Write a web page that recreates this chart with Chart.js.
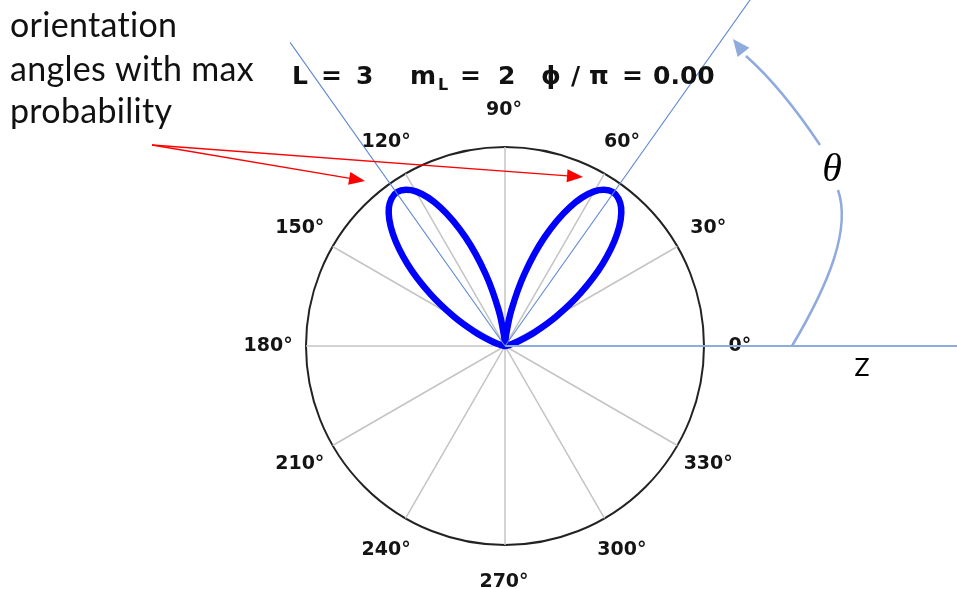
<!DOCTYPE html>
<html><head><meta charset="utf-8">
<script src="https://cdn.jsdelivr.net/npm/chart.js@4.4.0/dist/chart.umd.min.js"></script>
<style>html,body{margin:0;padding:0;background:#fff;overflow:hidden}</style>
</head><body>
<canvas id="c" width="957" height="589"></canvas>
<script>
// polar angle theta (degrees, counter-clockwise from +Z axis)
const thetaDeg = [0,5,10,15,20,25,30,35,40,45,50,55,60,65,70,75,80,85,
  90,95,100,105,110,115,120,125,130,135,140,145,150,155,160,165,170,175,
  180,185,190,195,200,205,210,215,220,225,230,235,240,245,250,255,260,265,
  270,275,280,285,290,295,300,305,310,315,320,325,330,335,340,345,350,355];
// radial value (fraction of outer circle)
const probability = [0.000,0.000,0.006,0.027,0.077,0.167,0.299,0.463,0.639,0.797,0.908,0.945,0.897,0.769,0.582,0.372,0.181,0.048,
  0.000,0.048,0.181,0.372,0.582,0.769,0.897,0.945,0.908,0.797,0.639,0.463,0.299,0.167,0.077,0.027,0.006,0.000,
  0.000,0,0,0,0,0,0,0,0,0,0,0,0,0,0,0,0,0,
  0,0,0,0,0,0,0,0,0,0,0,0,0,0,0,0,0,0];
// angular tick labels every 30 degrees
const angleTickLabels = ['0°','30°','60°','90°','120°','150°','180°','210°','240°','270°','300°','330°'];
// directions of maximum probability (degrees)
const maxAngles = [54.7, 125.3];

// Chart.js radar goes clockwise from startAngle; build the table in that order
const radarLabels = [];
const radarData = [];
for (let i = 0; i < thetaDeg.length; i++) {
  const th = (360 - thetaDeg[i]) % 360;
  const k = thetaDeg.indexOf(th);
  radarLabels.push(th);
  radarData.push(probability[k]);
}

function txt(ctx, s, x, y, font, color, align, base) {
  ctx.font = font; ctx.fillStyle = color || '#000';
  ctx.textAlign = align || 'left'; ctx.textBaseline = base || 'alphabetic';
  ctx.fillText(s, x, y);
}
function arrowHead(ctx, fx, fy, tx, ty, len, half, color) {
  const a = Math.atan2(ty - fy, tx - fx);
  ctx.beginPath();
  ctx.moveTo(tx, ty);
  ctx.lineTo(tx - len * Math.cos(a) + half * Math.sin(a), ty - len * Math.sin(a) - half * Math.cos(a));
  ctx.lineTo(tx - len * Math.cos(a) - half * Math.sin(a), ty - len * Math.sin(a) + half * Math.cos(a));
  ctx.closePath();
  ctx.fillStyle = color; ctx.fill();
}

const annot = {
  id: 'annot',
  afterDraw(chart) {
    const ctx = chart.ctx;
    const s = chart.scales.r;
    const cx = s.xCenter, cy = s.yCenter, R = s.drawingArea;
    ctx.save();
    // angular tick labels, centred outside the circle, placed with the scale
    for (let i = 0; i < radarLabels.length; i++) {
      const th = radarLabels[i];
      if (th % 30 !== 0) continue;
      const p = s.getPointPosition(i, R * 1.185);
      txt(ctx, angleTickLabels[th / 30], p.x - 1, p.y, 'bold 19px "DejaVu Sans"', '#141414', 'center', 'middle');
    }
    // Z axis
    ctx.strokeStyle = '#8FAADC'; ctx.lineWidth = 2;
    ctx.beginPath(); ctx.moveTo(cx, cy); ctx.lineTo(chart.width, cy); ctx.stroke();
    // max-probability directions
    ctx.strokeStyle = '#5E88D2'; ctx.lineWidth = 1.1;
    const lens = [440, 372];
    maxAngles.forEach((a, j) => {
      const r = a * Math.PI / 180;
      ctx.beginPath(); ctx.moveTo(cx, cy);
      ctx.lineTo(cx + lens[j] * Math.cos(r), cy - lens[j] * Math.sin(r)); ctx.stroke();
    });
    // theta arrow
    ctx.strokeStyle = '#8FAADC'; ctx.lineWidth = 2.5;
    ctx.beginPath(); ctx.moveTo(792, cy);
    ctx.bezierCurveTo(830, 282, 851, 228, 838, 190); ctx.stroke();
    ctx.beginPath(); ctx.moveTo(820, 145);
    ctx.quadraticCurveTo(782, 88, 746, 56); ctx.stroke();
    arrowHead(ctx, 752, 63, 733, 39, 17, 7.5, '#8FAADC');
    txt(ctx, 'θ', 832, 181, 'italic 40px "Liberation Serif"', '#000', 'center');
    txt(ctx, 'Z', 862, 376, '25px Lato', '#000', 'center');
    // red arrows
    ctx.strokeStyle = '#FF0000'; ctx.lineWidth = 1.3;
    [[365, 181], [583, 177]].forEach(([tx, ty]) => {
      ctx.beginPath(); ctx.moveTo(152, 145); ctx.lineTo(tx - 12, ty - 12 * (ty - 145) / (tx - 152)); ctx.stroke();
      arrowHead(ctx, 152, 145, tx, ty, 16, 6.5, '#FF0000');
    });
    // note text
    const nf = '34px Lato';
    if ('letterSpacing' in ctx) ctx.letterSpacing = '0.3px';
    txt(ctx, 'orientation', 10, 37, nf, '#111');
    txt(ctx, 'angles with max', 10, 81, nf, '#111');
    txt(ctx, 'probability', 10, 123, nf, '#111');
    if ('letterSpacing' in ctx) ctx.letterSpacing = '0px';
    // title
    const tf = 'bold 25px "DejaVu Sans"';
    const tc = '#111';
    txt(ctx, 'L', 292, 84, tf, tc);
    txt(ctx, '=', 321, 84, tf, tc);
    txt(ctx, '3', 356, 84, tf, tc);
    txt(ctx, 'm', 410, 84, tf, tc);
    txt(ctx, 'L', 438, 90, 'bold 16px "DejaVu Sans"', tc);
    txt(ctx, '=', 460, 84, tf, tc);
    txt(ctx, '2', 498, 84, tf, tc);
    txt(ctx, 'ϕ', 541, 84, tf, tc);
    txt(ctx, '/', 571, 84, tf, tc);
    txt(ctx, 'π', 589, 84, tf, tc);
    txt(ctx, '=', 622, 84, tf, tc);
    txt(ctx, '0.00', 653, 84, tf, tc);
    ctx.restore();
  }
};

new Chart(document.getElementById('c'), {
  type: 'radar',
  data: {
    labels: radarLabels,
    datasets: [{
      data: radarData,
      borderColor: '#0000FF',
      borderWidth: 6.5,
      pointRadius: 0,
      pointHoverRadius: 0,
      fill: false,
      tension: 0.35,
      borderJoinStyle: 'round',
      borderCapStyle: 'round'
    }]
  },
  options: {
    responsive: false,
    animation: false,
    events: [],
    layout: { padding: { left: 306, right: 253, top: 147, bottom: 44 } },
    plugins: { legend: { display: false }, tooltip: { enabled: false }, title: { display: false } },
    scales: {
      r: {
        min: 0, max: 1,
        startAngle: 90,
        ticks: { display: false, stepSize: 1 },
        grid: { circular: true, color: '#222222', lineWidth: 2 },
        angleLines: {
          display: true,
          color: c => (radarLabels[c.index] % 30 === 0 ? '#C4C4C4' : 'rgba(0,0,0,0)'),
          lineWidth: c => (radarLabels[c.index] % 30 === 0 ? 1.5 : 0)
        },
        pointLabels: { display: false }
      }
    }
  },
  plugins: [annot]
});
</script>
</body></html>
